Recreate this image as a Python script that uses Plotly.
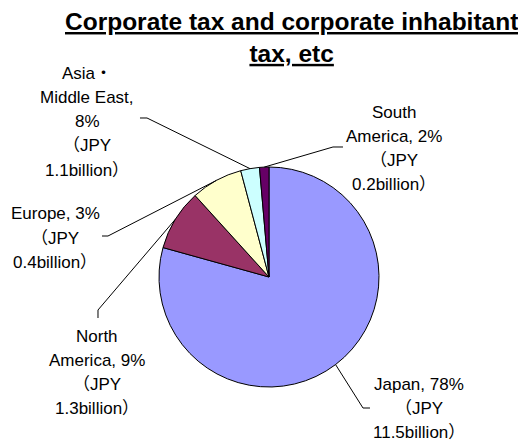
import math
import plotly.graph_objects as go

# ---- data ----
regions = ["Japan", "North America", "Asia・Middle East", "Europe", "South America"]
values_bn = [11.5, 1.3, 1.1, 0.4, 0.2]
colors = ["#9999FF", "#993366", "#FFFFCC", "#CCFFFF", "#660066"]
label_lines = [
    ["Japan, 78%", "（JPY", "11.5billion）"],
    ["North", "America, 9%", "（JPY", "1.3billion）"],
    ["Asia・", "Middle East,", "8%", "（JPY", "1.1billion）"],
    ["Europe, 3%", "（JPY", "0.4billion）"],
    ["South", "America, 2%", "（JPY", "0.2billion）"],
]
title_text = "Corporate tax and corporate inhabitant<br>tax, etc"

# ---- layout constants (pixels, screen coordinates) ----
W, H = 526, 441
OFF = 8  # page body margin offset
CX, CY, R = 269, 277, 110
label_pos = [(419, 384), (97, 336), (87, 73), (55, 214), (394, 112)]
line_gap = 24.3
leader_elbows = [
    [(370, 408), (363, 408)],
    [(98, 318), (98, 310)],
    [(140, 118), (147, 118)],
    [(102, 236), (108, 236)],
    [(343, 147), (333, 147)],
]
leader_target = [0, 1, 3, 2, 4]

FONT = "Liberation Sans, Noto Sans CJK JP, sans-serif"


def px(x):
    return (x - OFF) / W


def py(y):
    return 1 - (y - OFF) / H


fig = go.Figure(
    go.Pie(
        labels=regions,
        values=values_bn,
        sort=False,
        direction="clockwise",
        rotation=0,
        marker=dict(colors=colors, line=dict(color="black", width=1)),
        textinfo="none",
        hoverinfo="label+value+percent",
        showlegend=False,
        domain=dict(x=[px(CX - R), px(CX + R)], y=[py(CY + R), py(CY - R)]),
    )
)

total = sum(values_bn)
mids = []
cum = 0
for v in values_bn:
    mids.append((cum + v / 2) / total * 2 * math.pi)
    cum += v

shapes = []
for i, elbows in enumerate(leader_elbows):
    th = mids[leader_target[i]]
    tx = CX + R * math.sin(th)
    ty = CY - R * math.cos(th)
    pts = elbows + [(tx, ty)]
    path = "M " + " L ".join(f"{px(x):.5f},{py(y):.5f}" for x, y in pts)
    shapes.append(dict(type="path", xref="paper", yref="paper", path=path,
                       line=dict(color="black", width=1)))

annotations = []
for (lx, ly), lines in zip(label_pos, label_lines):
    for k, t in enumerate(lines):
        annotations.append(dict(
            x=px(lx), y=py(ly + k * line_gap), xref="paper", yref="paper",
            text=t, showarrow=False, xanchor="center", yanchor="middle",
            font=dict(family=FONT, size=17, color="black"),
        ))

annotations.append(dict(
    x=px(291), y=py(6), xref="paper", yref="paper", text=title_text,
    showarrow=False, xanchor="center", yanchor="top",
    font=dict(family=FONT, size=24.5, color="black", weight="bold", lineposition="under"),
))

fig.update_layout(
    width=W, height=H,
    margin=dict(l=0, r=0, t=0, b=0),
    paper_bgcolor="white", plot_bgcolor="white",
    shapes=shapes, annotations=annotations,
)

fig.write_html("out.html")
